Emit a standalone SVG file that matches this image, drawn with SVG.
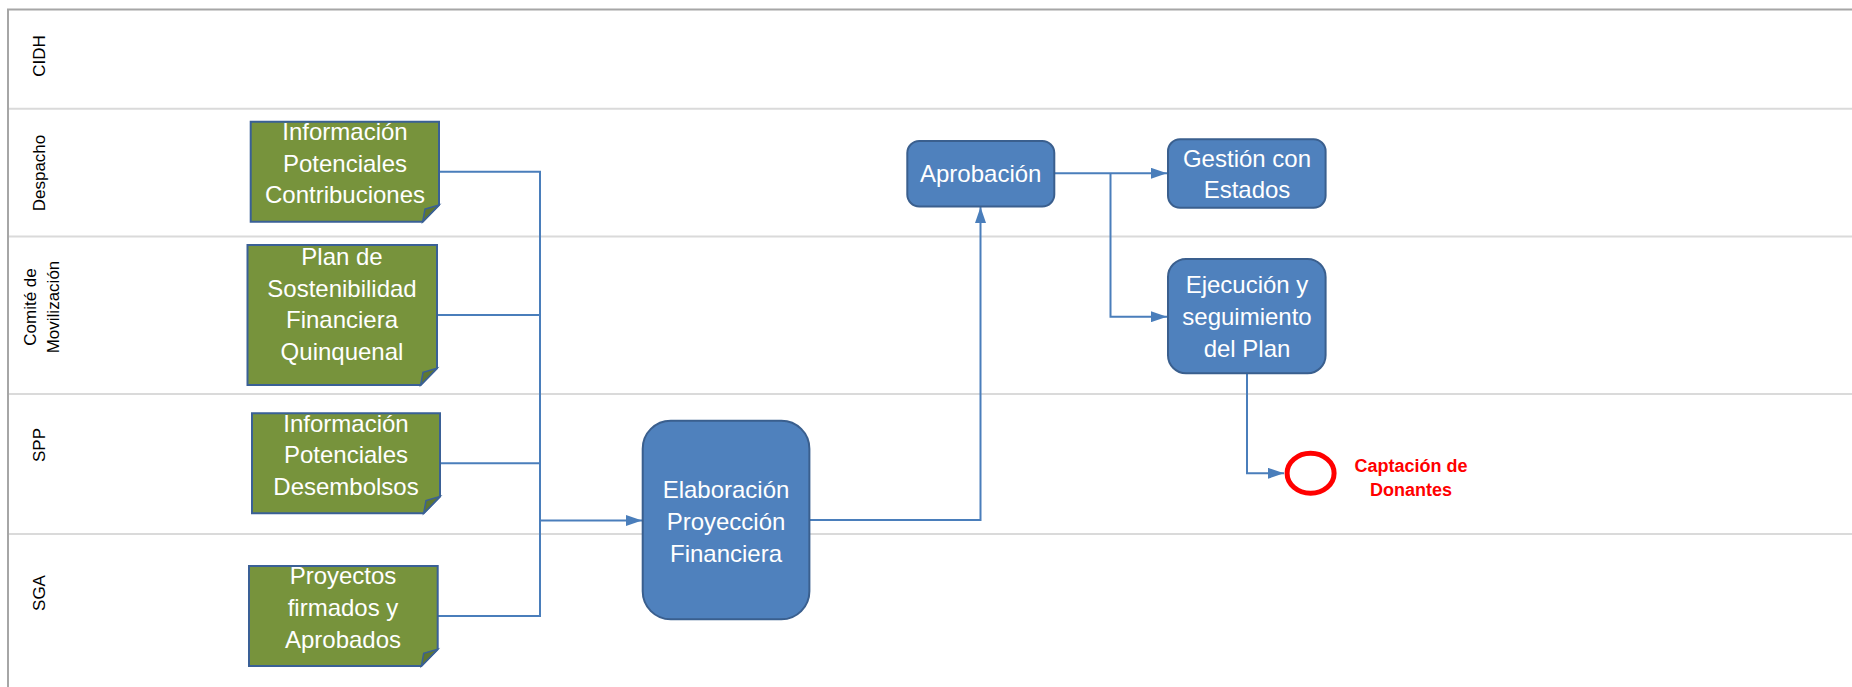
<svg xmlns="http://www.w3.org/2000/svg" width="1852" height="687" viewBox="0 0 1852 687">
<style>
.lane{stroke:#dadada;stroke-width:2;fill:none}
.border{stroke:#a6a6a6;stroke-width:2;fill:none}
.lbl{font-family:"Liberation Sans",Arial,sans-serif;font-size:17px;fill:#000;text-anchor:middle}
.doc{fill:#77933c;stroke:#3a6096;stroke-width:2}
.fold{fill:#5f7730;stroke:#3a6096;stroke-width:1.5}
.proc{fill:#4f81bd;stroke:#3a5f8e;stroke-width:2}
.t{font-family:"Liberation Sans",Arial,sans-serif;font-size:24px;fill:#fff;text-anchor:middle}
.con{stroke:#4a7ebb;stroke-width:2;fill:none}
.red{font-family:"Liberation Sans",Arial,sans-serif;font-size:18px;font-weight:bold;fill:#ff0000;text-anchor:middle}
</style>
<defs>
<marker id="arr" viewBox="0 0 16 11" refX="16" refY="5.5" markerWidth="16" markerHeight="11" markerUnits="userSpaceOnUse" orient="auto">
<path d="M0,0 L16,5.5 L0,11 Z" fill="#4a7ebb"/>
</marker>
</defs>
<rect width="1852" height="687" fill="#fff"/>
<g id="pool">
<line class="lane" x1="8" y1="108.7" x2="1852" y2="108.7"/>
<line class="lane" x1="8" y1="236.5" x2="1852" y2="236.5"/>
<line class="lane" x1="8" y1="394" x2="1852" y2="394"/>
<line class="lane" x1="8" y1="534" x2="1852" y2="534"/>
<path class="border" d="M8,687 V9.5 H1852"/>
<text class="lbl" transform="translate(45,56) rotate(-90)">CIDH</text>
<text class="lbl" transform="translate(45,173) rotate(-90)">Despacho</text>
<text class="lbl" transform="translate(35.5,307) rotate(-90)">Comité de</text>
<text class="lbl" transform="translate(59,307) rotate(-90)">Movilización</text>
<text class="lbl" transform="translate(45,445) rotate(-90)">SPP</text>
<text class="lbl" transform="translate(45,593) rotate(-90)">SGA</text>
</g>
<g id="connectors">
<polyline class="con" points="439,171.7 540,171.7 540,616 438,616"/>
<line class="con" x1="437" y1="315" x2="540" y2="315"/>
<line class="con" x1="440" y1="463.3" x2="540" y2="463.3"/>
<line class="con" x1="540" y1="520.5" x2="642" y2="520.5" marker-end="url(#arr)"/>
<polyline class="con" points="810,520 980.5,520 980.5,207" marker-end="url(#arr)"/>
<line class="con" x1="1054" y1="173.3" x2="1167" y2="173.3" marker-end="url(#arr)"/>
<polyline class="con" points="1110.5,173.3 1110.5,316.7 1167,316.7" marker-end="url(#arr)"/>
<polyline class="con" points="1247,374 1247,473.3 1284,473.3" marker-end="url(#arr)"/>
</g>
<g id="n1">
<path class="doc" d="M250.7,121.7 H439 V205 L422.7,221.7 H250.7 Z"/>
<path class="fold" d="M439,205 L422.7,221.7 L425,209 Z"/>
<text class="t" x="345" y="140">Información</text>
<text class="t" x="345" y="171.7">Potenciales</text>
<text class="t" x="345" y="203.3">Contribuciones</text>
</g>
<g id="n2">
<path class="doc" d="M247.5,245 H437 V368.3 L420.7,385 H247.5 Z"/>
<path class="fold" d="M437,368.3 L420.7,385 L423,372.3 Z"/>
<text class="t" x="342" y="265">Plan de</text>
<text class="t" x="342" y="296.7">Sostenibilidad</text>
<text class="t" x="342" y="328.3">Financiera</text>
<text class="t" x="342" y="360">Quinquenal</text>
</g>
<g id="n3">
<path class="doc" d="M252,413.3 H440 V496.6 L423.7,513.3 H252 Z"/>
<path class="fold" d="M440,496.6 L423.7,513.3 L426,500.6 Z"/>
<text class="t" x="346" y="431.7">Información</text>
<text class="t" x="346" y="463.3">Potenciales</text>
<text class="t" x="346" y="495">Desembolsos</text>
</g>
<g id="n4">
<path class="doc" d="M249,566 H437.7 V649.3 L421.4,666 H249 Z"/>
<path class="fold" d="M437.7,649.3 L421.4,666 L423.7,653.3 Z"/>
<text class="t" x="343" y="584">Proyectos</text>
<text class="t" x="343" y="616">firmados y</text>
<text class="t" x="343" y="648.3">Aprobados</text>
</g>
<g id="n5">
<rect class="proc" x="642.7" y="420.7" width="166.7" height="198.6" rx="28" ry="28"/>
<text class="t" x="726" y="498">Elaboración</text>
<text class="t" x="726" y="530">Proyección</text>
<text class="t" x="726" y="561.7">Financiera</text>
</g>
<g id="n6">
<rect class="proc" x="907.3" y="141" width="147" height="65.5" rx="12" ry="12"/>
<text class="t" x="980.7" y="182">Aprobación</text>
</g>
<g id="n7">
<rect class="proc" x="1168" y="139.3" width="157.6" height="68.4" rx="12" ry="12"/>
<text class="t" x="1247" y="166.7">Gestión con</text>
<text class="t" x="1247" y="198.3">Estados</text>
</g>
<g id="n8">
<rect class="proc" x="1168" y="259" width="157.6" height="114.3" rx="18" ry="18"/>
<text class="t" x="1247" y="292.7">Ejecución y</text>
<text class="t" x="1247" y="325">seguimiento</text>
<text class="t" x="1247" y="356.7">del Plan</text>
</g>
<g id="n9">
<ellipse cx="1310.6" cy="473.3" rx="23.5" ry="20" fill="#fff" stroke="#ff0000" stroke-width="5"/>
<text class="red" x="1411" y="471.7">Captación de</text>
<text class="red" x="1411" y="496">Donantes</text>
</g>
</svg>
